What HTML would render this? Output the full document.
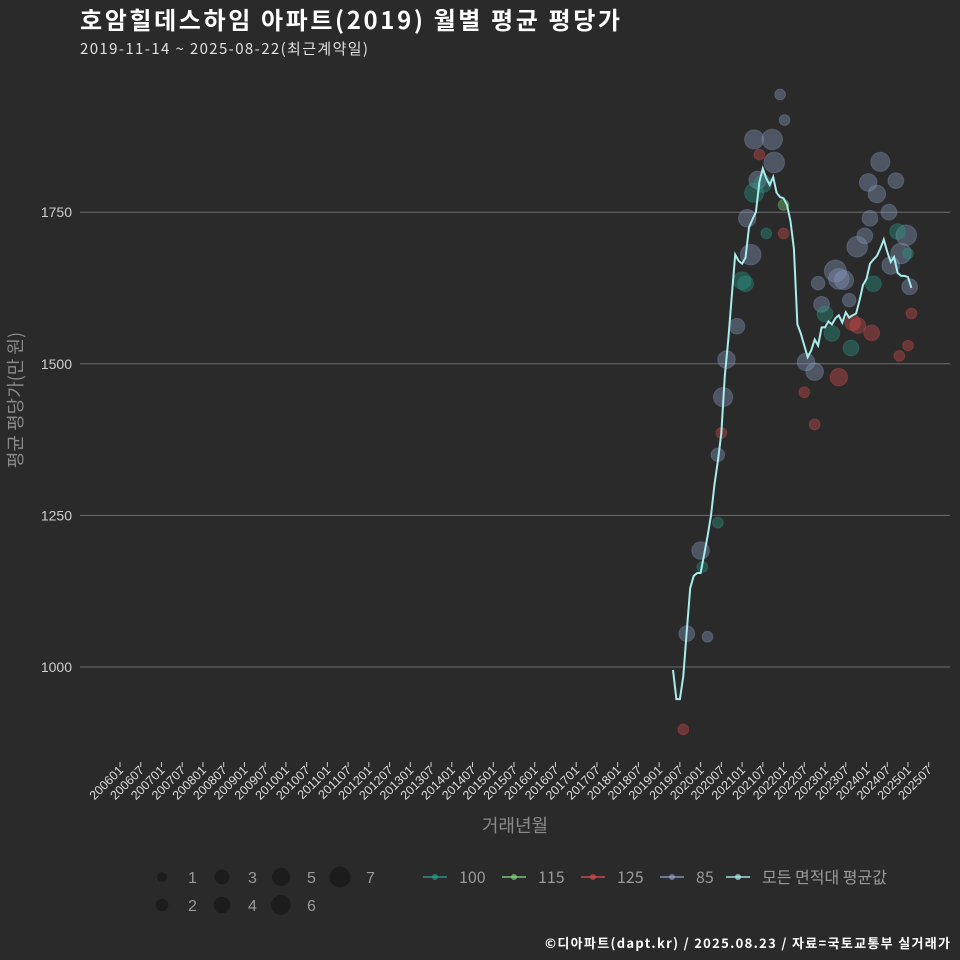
<!DOCTYPE html>
<html><head><meta charset="utf-8">
<style>
html,body{margin:0;padding:0;background:#2a2a2b;}
svg{display:block;font-family:"Liberation Sans","Noto Sans CJK KR",sans-serif;}
.kr{font-family:"Noto Sans CJK KR","Liberation Sans",sans-serif;}
</style></head>
<body>
<svg id="chart" width="960" height="960" viewBox="0 0 960 960" xmlns="http://www.w3.org/2000/svg">
<rect x="0" y="0" width="960" height="960" fill="#2a2a2b"/>
<text class="kr" x="80" y="29" font-size="24" font-weight="bold" fill="#ffffff" textLength="540">호암힐데스하임 아파트(2019) 월별 평균 평당가</text>
<text class="kr" x="80" y="54" font-size="15" fill="#e0e0e0" textLength="288">2019-11-14 ~ 2025-08-22(최근계약일)</text>
<g id="grid"></g>
<g id="yticks"></g>
<g id="xticks"></g>
<g id="points"></g>
<path id="avgline" fill="none" stroke="#a8ecec" stroke-width="2"/>
<text class="kr" transform="translate(22,400) rotate(-90)" text-anchor="middle" font-size="18" fill="#8a8a8a">평균 평당가(만 원)</text>
<text class="kr" x="515" y="832" text-anchor="middle" font-size="18" fill="#8a8a8a">거래년월</text>
<g id="legend"></g>
<text class="kr" x="950" y="948" text-anchor="end" font-size="13" font-weight="bold" fill="#ffffff" textLength="405">©디아파트(dapt.kr) / 2025.08.23 / 자료=국토교통부 실거래가</text>
</svg>
<script>
// data
const yTicks = [1000, 1250, 1500, 1750];
const tickLabels = ["200601","200607","200701","200707","200801","200807","200901","200907","201001","201007","201101","201107","201201","201207","201301","201307","201401","201407","201501","201507","201601","201607","201701","201707","201801","201807","201901","201907","202001","202007","202101","202107","202201","202207","202301","202307","202401","202407","202501","202507"];
const lineStart = "201911";
const lineValues = [995,947,947,985,1060,1130,1150,1155,1155,1185,1215,1250,1300,1340,1385,1480,1540,1610,1680,1670,1665,1675,1725,1738,1750,1800,1822,1806,1795,1808,1782,1775,1773,1762,1735,1690,1565,1550,1530,1511,1522,1540,1530,1560,1560,1570,1565,1575,1580,1568,1585,1576,1580,1583,1605,1630,1640,1665,1672,1678,1690,1705,1685,1668,1676,1650,1645,1645,1643,1625];
// scatter: month offset from 201911, value, count, area type
const ptMonth = [4,8,10,13,14.5,15.5,18.5,21.5,22.5,23.5,24.5,28.7,29.3,31,32.3,38.5,41,43,42,47,48,49.5,51,53.3,55.5,56.5,57,60,59,62.5,64.5,66,67.5,68.5,63,
  13,8.5,20,21,23.5,27,26,44,46,51.5,58,65,68,
  3,14,25,32,38,41,48,53.5,57.5,52,65.5,68,69,
  32];
const ptValue = [1055,1192,1050,1350,1445,1507,1562,1740,1680,1870,1803,1870,1832,1944,1902,1503,1487,1598,1633,1653,1640,1638,1605,1693,1711,1799,1740,1833,1780,1750,1802,1682,1712,1627,1662,
  1238,1165,1637,1632,1782,1715,1797,1582,1550,1526,1632,1718,1682,
  897,1386,1845,1715,1453,1400,1478,1563,1551,1568,1513,1530,1583,
  1762];
const ptCount = [3,4,1,2,5,4,3,4,6,5,4,6,6,1,1,4,4,3,2,7,6,5,2,6,3,4,3,5,4,3,3,6,6,3,4,
  1,1,4,3,5,1,4,3,3,3,3,3,1,
  1,1,1,1,1,1,4,3,3,3,1,1,1,
  1];
const ptType = ["85","85","85","85","85","85","85","85","85","85","85","85","85","85","85","85","85","85","85","85","85","85","85","85","85","85","85","85","85","85","85","85","85","85","85",
  "100","100","100","100","100","100","100","100","100","100","100","100","100",
  "125","125","125","125","125","125","125","125","125","125","125","125","125",
  "115"];
const legendSizes = [1,2,3,4,5,6,7];
const legendTypes = ["100","115","125","85","모든 면적대 평균값"];

const NS = "http://www.w3.org/2000/svg";
const colors = {"100":"#2a9a88","115":"#7fd07a","125":"#d44c4c","85":"#8a9ac0","모든 면적대 평균값":"#a8ecec"};
function monthIdx(s){return (parseInt(s.slice(0,4))-2006)*12 + parseInt(s.slice(4,6))-1;}
const PX_PER_MONTH = 3.456;
function x(m){return 120 + (m - 6) * PX_PER_MONTH;}
function y(v){return 667 - (v - 1000) * 0.6064;}
function rad(c){return 2 + Math.sqrt(c) * 3.4;}
function mk(tag, attrs, parent){const e=document.createElementNS(NS,tag);for(const k in attrs)e.setAttribute(k,attrs[k]);parent.appendChild(e);return e;}

const grid=document.getElementById('grid'), yt=document.getElementById('yticks');
yTicks.forEach(v=>{
  const l=mk('line',{x1:80,x2:950,y1:y(v),y2:y(v),stroke:'#6e6e6e','stroke-width':1},grid);
  
  
  const t=mk('text',{x:72,y:y(v)+5,'text-anchor':'end','font-size':14,fill:'#cfcfcf'},yt);
  
  
  t.textContent=v;
});
const xt=document.getElementById('xticks');
tickLabels.forEach(lab=>{
  const px = x(monthIdx(lab) + 6);
  const tk=mk('line',{x1:px,x2:px,y1:762,y2:767,stroke:'#cfcfcf','stroke-width':1},xt);
  
  
  const t=mk('text',{transform:`translate(${px+4},${771}) rotate(-45)`,'text-anchor':'end','font-size':12.5,fill:'#dddddd'},xt);
  
  
  t.textContent=lab;
});
const base = monthIdx(lineStart);
const pts=document.getElementById('points');
ptMonth.forEach((m,i)=>{
  const c=mk('circle',{cx:x(base+m),cy:y(ptValue[i]),r:rad(ptCount[i]),fill:colors[ptType[i]],'fill-opacity':0.38,stroke:colors[ptType[i]],'stroke-opacity':0.3},pts);
  
  
});
document.getElementById('avgline').setAttribute('d', lineValues.map((v,i)=>(i?'L':'M')+x(base+i).toFixed(1)+','+y(v).toFixed(1)).join(''));

const lg=document.getElementById('legend');
const sizePos=[[162,877],[162,905],[222,877],[222,905],[281,877],[281,905],[340,877]];
legendSizes.forEach((s,i)=>{
  const [cx,cy]=sizePos[i];
  const c=mk('circle',{cx:cx,cy:cy,r:rad(s)-0.5,fill:'#1c1c1c'},lg);
  
  
  const t=mk('text',{x:cx+26,y:cy+6,'font-size':16,fill:'#9a9a9a'},lg);
  
  
  t.textContent=s;
});
const typeX=[423,502,581,660,726];
legendTypes.forEach((tp,i)=>{
  const lx=typeX[i];
  const g=mk('g',{},lg);
  
  
  mk('line',{x1:lx,x2:lx+24,y1:877,y2:877,stroke:colors[tp],'stroke-width':2,'stroke-opacity':0.7},g);
  mk('circle',{cx:lx+12,cy:877,r:3,fill:colors[tp],'fill-opacity':0.7},g);
  const t=mk('text',{x:lx+36,y:883,'font-size':16,fill:'#9a9a9a','font-family':'"Noto Sans CJK KR","Liberation Sans",sans-serif'},g);
  
  
  t.textContent=tp;
});
</script>
</body></html>
